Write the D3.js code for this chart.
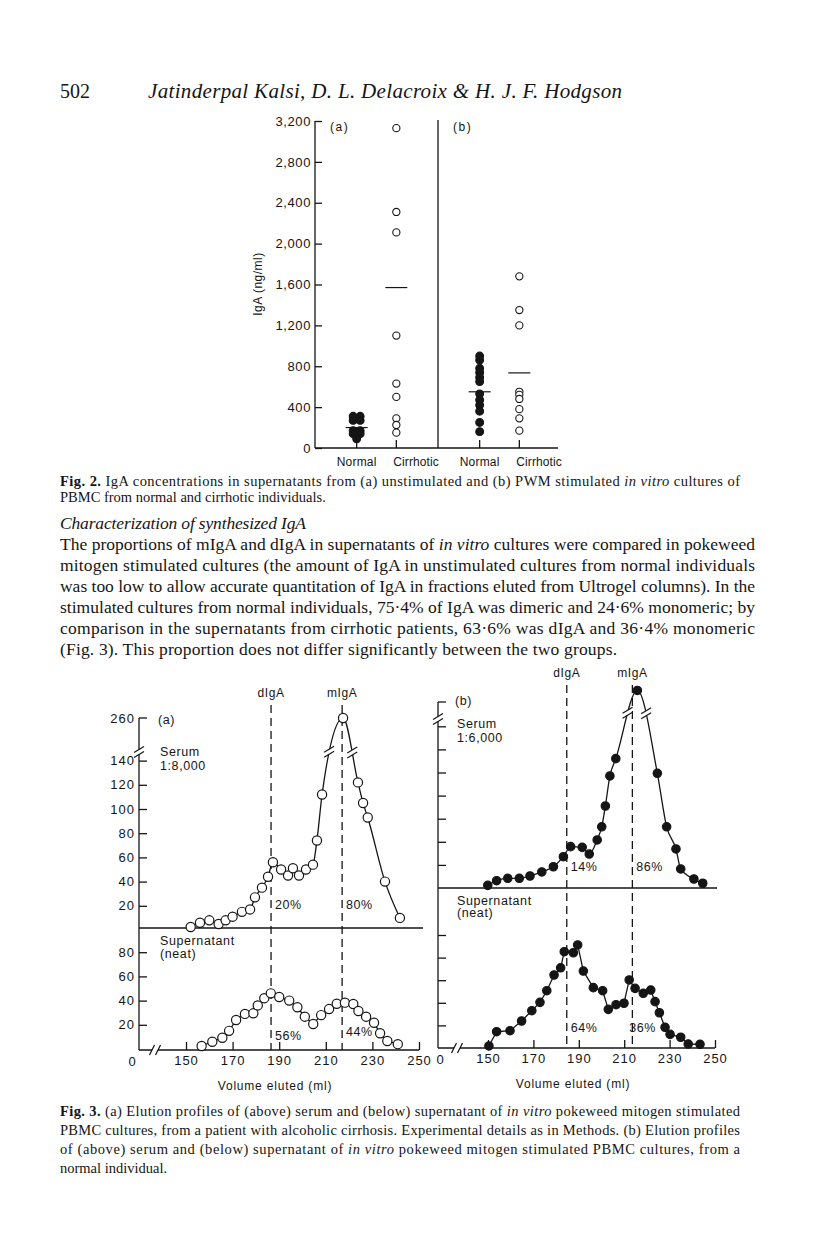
<!DOCTYPE html>
<html><head><meta charset="utf-8">
<script src="https://cdn.jsdelivr.net/npm/d3@7"></script>
<style>
body{margin:0;background:#fff}
svg{display:block}
.serif{font-family:"Liberation Serif","Times New Roman",serif;fill:#151515}
.sans{font-family:"Liberation Sans",Arial,sans-serif;fill:#151515}
</style>
</head><body>
<svg id="page" width="816" height="1246"></svg>
<script>
// ---------------- DATA ----------------
// Fig. 2
const fig2Panels = ["(a)", "(b)"];
const fig2Groups = ["Normal", "Cirrhotic"];
const fig2aNormal = [310, 310, 270, 270, 170, 170, 140, 140, 90];
const fig2aCirrhotic = [3130, 2310, 2110, 1100, 630, 500, 290, 225, 150];
const fig2bNormal = [900, 860, 780, 740, 690, 650, 530, 470, 420, 360, 250, 160];
const fig2bCirrhotic = [1680, 1350, 1200, 550, 520, 480, 380, 290, 170];
const fig2Means = [200, 1570, 550, 735];
const fig2Ticks = [0, 400, 800, 1200, 1600, 2000, 2400, 2800, 3200];

// Fig. 3
const fig3XTicks = [150, 170, 190, 210, 230, 250];
const fig3MarkerLabels = ["dIgA", "mIgA"];
const fig3aMarkers = [186.5, 217];
const fig3bMarkers = [184.7, 213.6];
const fig3aSerumTicks = [20, 40, 60, 80, 100, 120, 140];
const fig3aSerumTop = 260;
const fig3aSupTicks = [20, 40, 60, 80];
const fig3bSerumTicks = [20, 40, 60, 80, 100, 120, 140];
const fig3bSerumTop = 300;
const fig3bSupTicks = [20, 40, 60, 80, 100];
const fig3aPct = ["20%", "80%", "56%", "44%"];
const fig3bPct = ["14%", "86%", "64%", "36%"];

const serumAml  = [152,156,160,164,167,170,174,177.5,179.6,182.6,185.2,187.3,190.8,193.8,195.9,198.5,201.5,204.5,206.2,208.4,217.4,223.8,226,228,235.4,241.8];
const serumAIgA = [2.5,6,8,5,8,11,15,17,27,35,44,56,50,45,51,45,50,54,74,112,260,122,105,93,40,10];
const supAml  = [156.7,161.3,165.6,168.5,171.5,175.3,178.9,180.8,183.6,186.4,190,194.3,197.8,201,204.6,208,211.4,214.7,218.2,221.8,224,227.3,230.7,233.3,236.4,240.9];
const supAIgA = [2.5,6,9.3,15,24,29,29.5,36,42,46,43,40,34.5,26.7,20.7,28,33,37.4,38.3,37.2,31.4,26.7,21.7,13,6.6,4];
const serumBml  = [149.9,153.8,158.7,163.8,168.5,173.7,178.8,183.2,186.4,191.5,194.6,198.1,200.1,201.7,203.7,206.3,215.8,224.6,228.7,232.8,234.9,240.7,244.6];
const serumBIgA = [2.3,6.3,8.4,8.4,10.4,13.9,18.4,27.1,35.8,35.2,29.4,41.6,53,71,97,112,310,99.3,53,33.8,16.5,7.8,4.1];
const supBml  = [150.4,153.8,159.7,164.8,169.3,172.9,175.9,179.1,182,183.6,187.6,189.5,192,196.4,200.5,203,206.4,209.9,212.2,214.8,218.4,221.7,223.6,225.5,228,230.2,234.9,238.2,243.4];
const supBIgA = [1.8,14.4,15.3,23.9,33,40.4,50.7,64.6,71,85.2,84.3,91.2,68.1,53.4,50.7,34.2,38.3,39.6,60.2,52.8,48.4,51.3,41,31.2,18.3,12.1,9.5,3.5,3.3];

// ---------------- SETUP ----------------
const ink = "#151515";
const svg = d3.select("#page");
svg.append("rect").attr("width", 816).attr("height", 1246).attr("fill", "#fff");

function addText(g, x, y, parts, opt) {
  opt = opt || {};
  const t = g.append("text").attr("x", x).attr("y", y).attr("class", opt.cls || "serif")
    .style("font-size", opt.size + "px");
  if (opt.width) t.attr("textLength", opt.width).attr("lengthAdjust", opt.adjust || "spacing");
  if (opt.italic) t.style("font-style", "italic");
  if (opt.anchor) t.attr("text-anchor", opt.anchor);
  if (opt.ls != null) t.style("letter-spacing", opt.ls + "px");
  if (opt.transform) t.attr("transform", opt.transform);
  (typeof parts === "string" ? [[parts, ""]] : parts).forEach(([s, st]) => {
    const ts = t.append("tspan").text(s);
    if (st === "b") ts.style("font-weight", "bold");
    if (st === "i") ts.style("font-style", "italic");
  });
  return t;
}
function seg(g, x1, y1, x2, y2, w) {
  return g.append("line").attr("x1", x1).attr("y1", y1).attr("x2", x2).attr("y2", y2)
    .attr("stroke", ink).attr("stroke-width", w || 1.3);
}
function breakMark(g, cx, cy, dir) {
  if (dir === "v") {
    g.append("rect").attr("x", cx - 4).attr("y", cy - 2.5).attr("width", 8).attr("height", 5).attr("fill", "#fff");
    [-2.5, 2.5].forEach(o => seg(g, cx - 5, cy + o + 3, cx + 5, cy + o - 3, 1.2));
  } else {
    g.append("rect").attr("x", cx - 3).attr("y", cy - 3).attr("width", 6).attr("height", 6).attr("fill", "#fff");
    [-3, 3].forEach(o => seg(g, cx + o - 2.5, cy + 5, cx + o + 2.5, cy - 5, 1.2));
  }
}
function crossings(node, yLevel) {
  const L = node.getTotalLength(); const pts = [];
  let prev = node.getPointAtLength(0);
  for (let s = 0.5; s <= L; s += 0.5) {
    const p = node.getPointAtLength(s);
    if ((prev.y - yLevel) * (p.y - yLevel) <= 0 && prev.y !== p.y) pts.push(p);
    prev = p;
  }
  return pts;
}
function styleAxis(g, size, ls) {
  g.select(".domain").remove();
  g.selectAll(".tick line").attr("stroke", ink).attr("stroke-width", 1.3);
  g.selectAll(".tick text").attr("class", "sans").style("font-size", size + "px")
    .style("letter-spacing", (ls || 0) + "px").attr("fill", ink);
}

// ---------------- PAGE TEXT ----------------
const txt = svg.append("g");
addText(txt, 60, 98, "502", { size: 20 });
addText(txt, 148, 98, "Jatinderpal Kalsi, D. L. Delacroix & H. J. F. Hodgson", { size: 21, italic: true, width: 474 });

addText(txt, 60, 486, [["Fig. 2.", "b"], [" IgA concentrations in supernatants from (a) unstimulated and (b) PWM stimulated ", ""], ["in vitro", "i"], [" cultures of", ""]], { size: 14.5, width: 680 });
addText(txt, 60, 502, "PBMC from normal and cirrhotic individuals.", { size: 14.5 });

addText(txt, 60, 529, "Characterization of synthesized IgA", { size: 17.5, italic: true, width: 246 });
const body = [
  [["The proportions of mIgA and dIgA in supernatants of ", ""], ["in vitro", "i"], [" cultures were compared in pokeweed", ""]],
  "mitogen stimulated cultures (the amount of IgA in unstimulated cultures from normal individuals",
  "was too low to allow accurate quantitation of IgA in fractions eluted from Ultrogel columns). In the",
  "stimulated cultures from normal individuals, 75·4% of IgA was dimeric and 24·6% monomeric; by",
  "comparison in the supernatants from cirrhotic patients, 63·6% was dIgA and 36·4% monomeric",
  "(Fig. 3). This proportion does not differ significantly between the two groups."
];
body.forEach((l, i) => addText(txt, 60, 550 + i * 21, l, { size: 17.5, width: i === 5 ? 557 : 695 }));

const cap3 = [
  [["Fig. 3.", "b"], [" (a) Elution profiles of (above) serum and (below) supernatant of ", ""], ["in vitro", "i"], [" pokeweed mitogen stimulated", ""]],
  "PBMC cultures, from a patient with alcoholic cirrhosis. Experimental details as in Methods. (b) Elution profiles",
  [["of (above) serum and (below) supernatant of ", ""], ["in vitro", "i"], [" pokeweed mitogen stimulated PBMC cultures, from a", ""]],
  "normal individual."
];
cap3.forEach((l, i) => addText(txt, 60, 1116 + i * 19, l, { size: 14.5, width: i === 3 ? null : 680 }));

// ---------------- FIG 2 ----------------
const f2 = svg.append("g");
const y2 = d3.scaleLinear().domain([0, 3200]).range([448, 121]);
const panel2 = d3.scaleBand().domain(fig2Panels).range([315, 561]);
const grp2 = d3.scalePoint().domain(fig2Groups).range([0, panel2.bandwidth()]).padding(1.05);
const xAxis2 = 315;

const ay2 = f2.append("g").attr("transform", `translate(${xAxis2},0)`)
  .call(d3.axisLeft(y2).tickValues(fig2Ticks).tickSize(-7).tickPadding(4).tickFormat(d3.format(",")));
styleAxis(ay2, 13, 0.6);
seg(f2, xAxis2, y2(3200), xAxis2, 448);
seg(f2, xAxis2, 448, 558, 448);
seg(f2, panel2("(b)"), 120, panel2("(b)"), 448);

addText(f2, 262, 284, "IgA (ng/ml)", { cls: "sans", size: 12, anchor: "middle", ls: 0.5, transform: "rotate(-90 262 284)" });
fig2Panels.forEach(p => addText(f2, panel2(p) + 15, 131, p, { cls: "sans", size: 12, ls: 1.5 }));

const fig2Sets = [
  { p: "(a)", g: "Normal", v: fig2aNormal, filled: true },
  { p: "(a)", g: "Cirrhotic", v: fig2aCirrhotic, filled: false },
  { p: "(b)", g: "Normal", v: fig2bNormal, filled: true },
  { p: "(b)", g: "Cirrhotic", v: fig2bCirrhotic, filled: false }
];
fig2Sets.forEach((s, i) => {
  const cx = panel2(s.p) + grp2(s.g);
  seg(f2, cx, 448, cx, 440);
  if (s.g === "Normal") addText(f2, cx, 466, s.g, { cls: "sans", size: 12, anchor: "middle", ls: 0.2 });
  else addText(f2, cx - 3, 466, s.g, { cls: "sans", size: 12, anchor: "start", ls: 0.1 });
  // dodge identical values symmetrically
  const counts = d3.rollup(s.v, v => v.length, d => d);
  const seen = new Map();
  s.v.forEach(v => {
    const n = counts.get(v); const k = seen.get(v) || 0; seen.set(v, k + 1);
    const off = (k - (n - 1) / 2) * 7;
    f2.append("circle").attr("cx", cx + off).attr("cy", y2(v)).attr("r", s.filled ? 3.9 : 3.6)
      .attr("fill", s.filled ? ink : "#fff").attr("stroke", ink).attr("stroke-width", 1.1);
  });
  seg(f2, cx - 11, y2(fig2Means[i]), cx + 11, y2(fig2Means[i]), 1.2);
});

// ---------------- FIG 3 ----------------
const f3 = svg.append("g");
const dash = "8,5";

function panel3(cfg) {
  const g = f3.append("g");
  const { x, ySer, ySup, ax, xAxisY, topY, axisBreakY } = cfg;
  seg(g, ax, topY, ax, xAxisY);
  seg(g, ax, topY, ax + 8, topY);
  breakMark(g, ax, axisBreakY, "v");
  const aSer = g.append("g").attr("transform", `translate(${ax},0)`)
    .call(d3.axisLeft(ySer).tickValues(cfg.serTicks).tickSize(-8).tickPadding(4)
      .tickFormat(cfg.labels ? d3.format("d") : () => ""));
  styleAxis(aSer, 13, 1);
  const aSup = g.append("g").attr("transform", `translate(${ax},0)`)
    .call(d3.axisLeft(ySup).tickValues(cfg.supTicks).tickSize(-8).tickPadding(4)
      .tickFormat(cfg.labels ? d3.format("d") : () => ""));
  styleAxis(aSup, 13, 1);
  if (cfg.labels) addText(g, ax - 4, topY + 5, String(cfg.topVal), { cls: "sans", size: 13, anchor: "end", ls: 1 });
  seg(g, ax, ySup(100) + (cfg.dividerOff || 0), cfg.dividerEnd, ySup(100) + (cfg.dividerOff || 0));
  const ax3 = g.append("g").attr("transform", `translate(0,${xAxisY})`)
    .call(d3.axisBottom(x).tickValues(fig3XTicks).tickSize(-8).tickPadding(6).tickFormat(d3.format("d")));
  styleAxis(ax3, 13, 1);
  seg(g, ax, xAxisY, x(250), xAxisY);
  breakMark(g, cfg.xBreakX, xAxisY, "h");
  addText(g, cfg.zeroX, xAxisY + 16, "0", { cls: "sans", size: 13, anchor: "middle" });
  addText(g, cfg.xLabelX, xAxisY + 40, "Volume eluted (ml)", { cls: "sans", size: 12, anchor: "middle", ls: 0.8 });
  cfg.markers.forEach((m, i) => {
    g.append("line").attr("x1", x(m)).attr("x2", x(m)).attr("y1", cfg.markerTop).attr("y2", xAxisY)
      .attr("stroke", ink).attr("stroke-width", 1.3).attr("stroke-dasharray", dash);
    addText(g, x(m), cfg.markerTop - 8, fig3MarkerLabels[i], { cls: "sans", size: 12, anchor: "middle", ls: 0.6 });
  });
  cfg.texts.forEach(t => addText(g, t[0], t[1], t[2], { cls: "sans", size: 12.5, ls: 0.6 }));
  cfg.pct.forEach((p, i) => {
    const m = cfg.markers[i % 2];
    addText(g, x(m) + cfg.pctDx[i], cfg.pctY[i], p, { cls: "sans", size: 12.5, ls: 0.5 });
  });
  const serPts = cfg.serMl.map((d, i) => [x(d), ySer(cfg.serV[i])]);
  const sp = g.append("path").attr("d", d3.line().curve(d3.curveMonotoneX)(serPts))
    .attr("fill", "none").attr("stroke", ink).attr("stroke-width", 1.3);
  crossings(sp.node(), cfg.curveBreakY).forEach(p => breakMark(g, p.x, p.y, "v"));
  const supPts = cfg.supMl.map((d, i) => [x(d), ySup(cfg.supV[i])]);
  g.append("path").attr("d", d3.line()(supPts)).attr("fill", "none").attr("stroke", ink).attr("stroke-width", 1.3);
  [serPts, supPts].forEach(pts => pts.forEach(p => g.append("circle").attr("cx", p[0]).attr("cy", p[1])
    .attr("r", cfg.filled ? 4.2 : 4.6).attr("fill", cfg.filled ? ink : "#fff").attr("stroke", ink).attr("stroke-width", 1.2)));
}

panel3({
  x: d3.scaleLinear().domain([150, 250]).range([186, 419]),
  ySer: d3.scaleLinear().domain([0, 140, 250, 300]).range([930, 760.6, 730.1, 669.6]),
  ySup: d3.scaleLinear().domain([0, 100]).range([1049, 928]),
  ax: 139, xAxisY: 1050, topY: 718, axisBreakY: 752, topVal: fig3aSerumTop,
  serTicks: fig3aSerumTicks, supTicks: fig3aSupTicks, labels: true,
  dividerEnd: 423, xBreakX: 155, zeroX: 132, xLabelX: 275,
  markers: fig3aMarkers, markerTop: 705,
  texts: [[158, 724, "(a)"], [160, 756, "Serum"], [160, 770, "1:8,000"], [160, 945, "Supernatant"], [160, 958, "(neat)"]],
  pct: fig3aPct, pctDx: [4, 4, 4, 4], pctY: [909, 909, 1040, 1036],
  serMl: serumAml, serV: serumAIgA, supMl: supAml, supV: supAIgA,
  curveBreakY: 752, filled: false
});
panel3({
  x: d3.scaleLinear().domain([150, 250]).range([488, 715]),
  ySer: d3.scaleLinear().domain([0, 140, 300, 400]).range([888, 726.3, 702, 586.5]),
  ySup: d3.scaleLinear().domain([0, 100]).range([1048, 935]),
  ax: 438, xAxisY: 1048, topY: 702, axisBreakY: 719, topVal: fig3bSerumTop,
  serTicks: fig3bSerumTicks, supTicks: fig3bSupTicks, labels: false,
  dividerOff: -47, dividerEnd: 717, xBreakX: 457, zeroX: 440, xLabelX: 573,
  markers: fig3bMarkers, markerTop: 685,
  texts: [[455, 705, "(b)"], [457, 728, "Serum"], [457, 742, "1:6,000"], [457, 905, "Supernatant"], [457, 917, "(neat)"]],
  pct: fig3bPct, pctDx: [4, 4, 4, -3], pctY: [871, 871, 1032, 1032],
  serMl: serumBml, serV: serumBIgA, supMl: supBml, supV: supBIgA,
  curveBreakY: 713, filled: true
});
</script>
</body></html>
